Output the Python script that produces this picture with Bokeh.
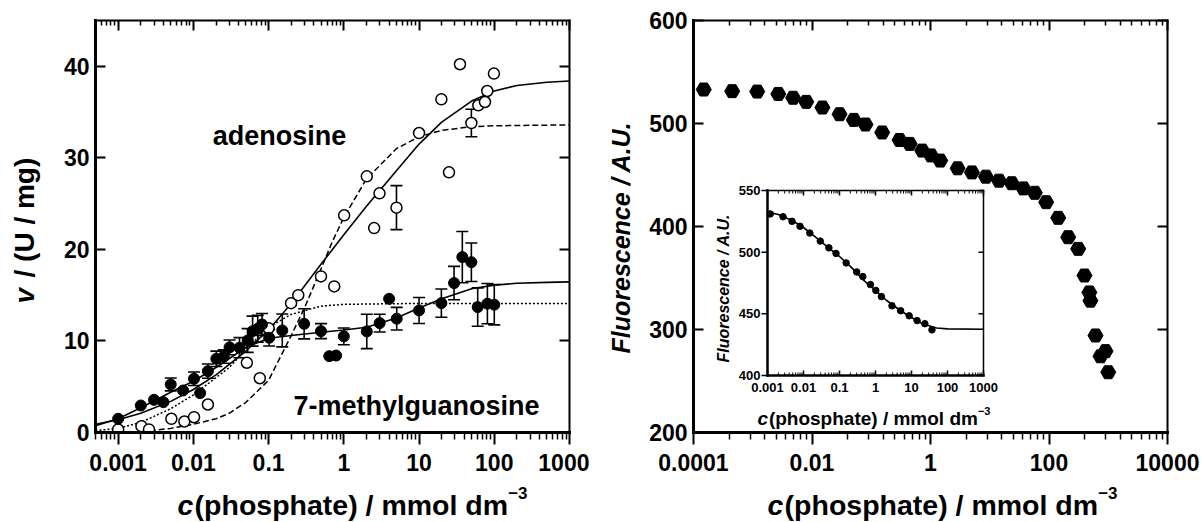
import numpy as np
from bokeh.plotting import figure
from bokeh.models import (LogAxis, LinearAxis, FixedTicker, Range1d, Label, LogScale,
                          Whisker, TeeHead, ColumnDataSource, CustomJSTickFormatter)
from bokeh.layouts import row, column
from bokeh.embed import file_html
from bokeh.resources import INLINE

FONT = "Liberation Sans"

# ---------------- left panel data ----------------
# adenosine (open circles)
ado_x = [0.001, 0.00204, 0.00257, 0.0051, 0.0076, 0.0102, 0.0156, 0.0514, 0.0764, 0.1,
         0.199, 0.248, 0.497, 0.746, 1.01, 2.02, 2.53, 2.98, 5.01, 10, 19.8, 25, 35,
         49.6, 61.4, 75.2, 80.7, 98.9]
ado_y = [0.33, 0.69, 0.33, 1.5, 1.2, 1.67, 3.06, 7.62, 5.93, 11.4,
         14.13, 15.0, 17.05, 15.96, 23.72, 27.98, 22.33, 26.12, 24.56, 32.71, 36.39, 28.42, 40.22,
         33.8, 35.74, 36.1, 37.3, 39.2]
ado_err = [0, 0, 0, 0, 0, 0, 0, 0, 0, 0,
           0, 0, 0, 0, 0, 0, 0, 0, 2.4, 0, 0, 0, 0,
           1.5, 0, 0, 0, 0]

# 7-methylguanosine (filled circles)
m7g_x = [0.001, 0.002, 0.003, 0.004, 0.005, 0.0073, 0.0102, 0.0123, 0.0156, 0.0202,
         0.0254, 0.0303, 0.041, 0.0527, 0.0613, 0.0717, 0.0818, 0.1018, 0.152, 0.297,
         0.497, 0.64, 0.79, 1.0, 2.02, 3.0, 4.0, 5.05, 10, 19.8, 29.2, 37.6, 49.6,
         60.2, 81, 100]
m7g_y = [1.5, 2.95, 3.57, 3.31, 5.25, 4.59, 5.87, 4.3, 6.7, 8.05,
         8.3, 9.3, 9.26, 10.05, 11.07, 11.33, 11.8, 10.35, 11.15, 11.87,
         11.07, 8.34, 8.41, 10.5, 11.04, 11.95, 14.6, 12.43, 13.33, 14.13, 16.32, 19.16, 18.6,
         13.7, 14.07, 13.96]
m7g_err = [0, 0, 0, 0, 0.7, 0, 0.73, 0, 0.78, 0.84,
           0.73, 0.8, 1.1, 1.3, 1.64, 1.46, 1.2, 0.9, 1.8, 1.64,
           0.82, 0, 0, 0.91, 1.88, 0.97, 0, 1.24, 1.42, 1.55, 1.82, 2.8, 2.1,
           2.1, 2.2, 2.2]

# fitted curves
ado_fit1_x = [0.0005, 0.001, 0.002, 0.005, 0.01, 0.02, 0.05, 0.1, 0.2, 0.5, 1, 2, 5, 10,
              20, 50, 100, 200, 500, 1000]
ado_fit1_y = [0.9, 1.4, 2.1, 3.4, 4.7, 6.3, 8.9, 11.2, 14.1, 18.4, 21.6, 24.7, 28.6, 31.5,
              33.9, 36.2, 37.3, 37.9, 38.25, 38.4]
ado_fit2_x = [0.002, 0.003, 0.005, 0.01, 0.02, 0.03, 0.05, 0.1, 0.2, 0.3, 0.5, 0.7, 1, 2,
              5, 10, 20, 50, 100, 1000]
ado_fit2_y = [0.1, 0.25, 0.45, 0.9, 1.5, 2.1, 3.3, 5.7, 10.6, 13.6, 17.9, 20.8, 23.5, 27.7,
              31.0, 32.3, 33.0, 33.4, 33.5, 33.6]
m7g_fit1_x = [0.0005, 0.001, 0.002, 0.005, 0.01, 0.02, 0.05, 0.1, 0.2, 0.5, 1, 2, 5, 10,
              20, 50, 100, 200, 500, 1000]
m7g_fit1_y = [0.75, 1.5, 2.7, 4.4, 5.6, 7.1, 9.3, 10.3, 10.6, 10.95, 11.2, 11.5, 12.5, 13.6,
              14.6, 15.7, 16.1, 16.3, 16.4, 16.45]
m7g_fit2_x = [0.0005, 0.001, 0.002, 0.005, 0.01, 0.02, 0.03, 0.05, 0.1, 0.2, 0.5, 1, 10, 1000]
m7g_fit2_y = [0.2, 0.45, 1.1, 2.6, 4.1, 6.0, 7.1, 9.1, 11.5, 12.9, 13.8, 14.0, 14.1, 14.1]

# ---------------- right panel data ----------------
fl_x = [1.49e-4, 4.5e-4, 1.19e-3, 2.7e-3, 4.8e-3, 8.0e-3, 0.0150, 0.0292, 0.0507, 0.080,
        0.153, 0.300, 0.445, 0.724, 1.02, 1.46, 2.87, 5.0, 8.6, 14.3, 23.5, 37.0, 57.6,
        89.7, 143, 211, 311, 397, 480, 500, 610, 740, 900, 1000]
fl_y = [533, 531.4, 531, 528.7, 525, 521, 515.5, 509, 503.5, 499,
        491.3, 484, 480.2, 473.7, 469, 464, 456.5, 452.5, 448.4, 444.5, 442, 437, 432.7,
        423.6, 408.4, 389.6, 378.3, 352.4, 336, 328, 294.2, 274, 279, 258.5]
fit_ins_x = [0.001, 0.002, 0.005, 0.01, 0.02, 0.05, 0.1, 0.2, 0.5, 1, 2, 5, 10, 20, 50, 100, 1000]
fit_ins_y = [532.5, 530.5, 525.5, 520, 513, 503.5, 496.5, 488.5, 476.5, 469, 461, 452.5, 447,
             442, 438.5, 437.8, 437.5]

# ---------------- ticks ----------------
L_xmaj = [0.001, 0.01, 0.1, 1, 10, 100, 1000]
L_xmin = [k * 10.0 ** e for e in range(-4, 3) for k in range(2, 10) if 5e-4 <= k * 10.0 ** e <= 1000]
L_ymaj = [0, 10, 20, 30, 40]
R_xmaj = [0.0001, 0.01, 1, 100, 10000]
R_xmin = [m * k * k for m in R_xmaj[:-1] for k in range(2, 10)]
R_ymaj = [200, 300, 400, 500, 600]
I_xmaj = [0.001, 0.01, 0.1, 1, 10, 100, 1000]
I_xmin = [k * 10.0 ** e for e in range(-3, 3) for k in range(2, 10)]
I_ymaj = [400, 450, 500, 550]

fmt = CustomJSTickFormatter(code="return String(tick);")

ROW_H = 480
B_TOP, B_BOT = 20, 48
STRIP_H = 41


def no_align(p):
    if "frame_align" in p.properties():
        p.frame_align = False


def style_axis(ax, lw, tin, tout, mtin, mtout, fs, standoff, show=True):
    ax.axis_line_width = lw
    ax.axis_line_color = "black"
    ax.axis_line_cap = "square"
    ax.major_tick_line_width = 2
    ax.minor_tick_line_width = 1.5
    ax.major_tick_line_color = "black"
    ax.minor_tick_line_color = "black"
    ax.major_tick_in = tin
    ax.major_tick_out = tout
    ax.minor_tick_in = mtin
    ax.minor_tick_out = mtout
    ax.major_label_text_font = FONT
    ax.major_label_text_font_style = "bold"
    ax.major_label_text_color = "black"
    ax.major_label_standoff = standoff
    if show:
        ax.major_label_text_font_size = fs
    else:
        ax.major_label_text_font_size = "0px"
        ax.major_label_text_alpha = 0
        ax.major_label_standoff = 0


def make_fig(width, xr, yr, bl, br, xmaj, xmin, ymaj):
    p = figure(width=width, height=ROW_H, x_axis_type="log", x_range=Range1d(*xr),
               y_range=Range1d(*yr), output_backend="svg", toolbar_location=None,
               min_border_left=bl, min_border_right=br, min_border_top=B_TOP,
               min_border_bottom=B_BOT)
    no_align(p)
    p.title.visible = False
    p.outline_line_color = None
    p.xgrid.visible = False
    p.ygrid.visible = False
    p.background_fill_color = "white"
    xa = p.xaxis[0]
    xa.ticker = FixedTicker(ticks=xmaj, minor_ticks=xmin)
    xa.formatter = fmt
    style_axis(xa, 3, 0, 12, 0, 7, "23px", 9)
    ya = p.yaxis[0]
    ya.ticker = FixedTicker(ticks=ymaj, minor_ticks=[])
    style_axis(ya, 3, 10, 0, 0, 0, "23px", 6)
    top = LogAxis(ticker=FixedTicker(ticks=xmaj, minor_ticks=xmin), formatter=fmt)
    style_axis(top, 2, 10, 0, 5, 0, "0px", 0, show=False)
    p.add_layout(top, "above")
    right = LinearAxis(ticker=FixedTicker(ticks=ymaj, minor_ticks=[]))
    style_axis(right, 2, 10, 0, 0, 0, "0px", 0, show=False)
    p.add_layout(right, "right")
    return p


def text_strip(width, height, bt, bb):
    s = figure(width=width, height=height, x_range=Range1d(0, 1), y_range=Range1d(0, 1),
               output_backend="svg", toolbar_location=None, x_axis_location=None,
               y_axis_location=None, min_border_left=0, min_border_right=0,
               min_border_top=bt, min_border_bottom=bb)
    no_align(s)
    s.title.visible = False
    s.outline_line_color = None
    s.xgrid.visible = False
    s.ygrid.visible = False
    return s


def lab(p, x, y, text, size, style="bold", align="left", baseline="alphabetic", angle=0):
    p.add_layout(Label(x=x, y=y, x_units="screen", y_units="screen", text=text,
                       text_font=FONT, text_font_size=size, text_font_style=style,
                       text_color="black", text_align=align, text_baseline=baseline,
                       angle=angle))


def xlabel(p, x0, y0, fs, sup_fs, rise):
    lab(p, x0, y0, "c", f"{fs}px", "bold italic")
    x1 = x0 + 0.6 * fs
    lab(p, x1, y0, "(phosphate) / mmol dm", f"{fs}px", "bold")
    x2 = x1 + 11.001 * fs
    lab(p, x2, y0 + rise, "\u22123", f"{sup_fs}px", "bold")


# ================= left figure =================
p1 = make_fig(531, (5e-4, 1000), (0, 45), 37, 20, L_xmaj, L_xmin, L_ymaj)

p1.line(ado_fit1_x, ado_fit1_y, line_color="black", line_width=1.6)
p1.line(ado_fit2_x, ado_fit2_y, line_color="black", line_width=1.5, line_dash="6 3")
p1.line(m7g_fit1_x, m7g_fit1_y, line_color="black", line_width=1.6)
p1.line(m7g_fit2_x, m7g_fit2_y, line_color="black", line_width=1.5, line_dash="2 2")


def err_source(xs, ys, es):
    sel = [(x, y, e) for x, y, e in zip(xs, ys, es) if e > 0]
    return ColumnDataSource(dict(x=[s[0] for s in sel], lo=[s[1] - s[2] for s in sel],
                                 hi=[s[1] + s[2] for s in sel]))


for src in (err_source(m7g_x, m7g_y, m7g_err), err_source(ado_x, ado_y, ado_err)):
    w = Whisker(source=src, base="x", lower="lo", upper="hi", dimension="height",
                line_color="black", line_width=1.6,
                upper_head=TeeHead(size=12, line_width=1.6, line_color="black"),
                lower_head=TeeHead(size=12, line_width=1.6, line_color="black"))
    p1.add_layout(w)

p1.scatter(ado_x, ado_y, marker="circle", size=11, fill_color="white", line_color="black",
           line_width=1.5)
p1.scatter(m7g_x, m7g_y, marker="circle", size=11, fill_color="black", line_color="black")

lab(p1, 184, 297, "adenosine", "27px", align="center")
lab(p1, 321, 27, "7-methylguanosine", "27px", align="center")

# ================= right figure =================
p2 = make_fig(556, (1e-4, 1e4), (200, 600), 48, 34, R_xmaj, R_xmin, R_ymaj)

# inset geometry (pixels inside the 474 x 412 frame)
FR_W, FR_H = 474, 412
INS_L, INS_R, INS_T, INS_B = 74, 290, 170, 355
ipx = (INS_R - INS_L) / 6.0
ipy = (INS_B - INS_T) / 150.0
p2.extra_x_ranges = {"ix": Range1d(10 ** (-3 - INS_L / ipx), 10 ** (3 + (FR_W - INS_R) / ipx))}
p2.extra_y_ranges = {"iy": Range1d(400 - (FR_H - INS_B) / ipy, 550 + INS_T / ipy)}
p2.extra_x_scales = {"ix": LogScale()}
IR = dict(x_range_name="ix", y_range_name="iy")

p2.scatter(fl_x, fl_y, marker="hex", size=15, fill_color="black", line_color="black")

p2.quad(left=[I_xmaj[0]], right=[I_xmaj[-1]], bottom=[I_ymaj[0]], top=[I_ymaj[-1]],
        fill_color="white", line_color=None, **IR)
ins_x = [x for x in fl_x if I_xmaj[0] <= x <= 40]
ins_y = [y for x, y in zip(fl_x, fl_y) if I_xmaj[0] <= x <= 40]
p2.line(fit_ins_x, fit_ins_y, line_color="black", line_width=1.6, **IR)
p2.scatter(ins_x, ins_y, marker="circle", size=6.5, fill_color="black", line_color="black", **IR)

x0i, x1i, y0i, y1i = I_xmaj[0], I_xmaj[-1], I_ymaj[0], I_ymaj[-1]
p2.segment(x0=[x0i, x0i], y0=[y0i, y0i], x1=[x0i, x1i], y1=[y1i, y0i], line_width=2.5,
           line_color="black", line_cap="square", **IR)
p2.segment(x0=[x0i, x1i], y0=[y1i, y0i], x1=[x1i, x1i], y1=[y1i, y1i], line_width=1.5,
           line_color="black", line_cap="square", **IR)
for ys, sign in ((y0i, 1), (y1i, -1)):
    p2.segment(x0=I_xmaj, x1=I_xmaj, y0=[ys] * len(I_xmaj),
               y1=[ys + sign * 5 / ipy] * len(I_xmaj), line_width=1.5, line_color="black", **IR)
    p2.segment(x0=I_xmin, x1=I_xmin, y0=[ys] * len(I_xmin),
               y1=[ys + sign * 3 / ipy] * len(I_xmin), line_width=1, line_color="black", **IR)
p2.segment(x0=[x0i] * 4, x1=[x0i / 10 ** (6 / ipx)] * 4, y0=I_ymaj, y1=I_ymaj, line_width=1.5,
           line_color="black", **IR)
p2.segment(x0=[x1i] * 4, x1=[x1i / 10 ** (5 / ipx)] * 4, y0=I_ymaj, y1=I_ymaj, line_width=1.5,
           line_color="black", **IR)
p2.text(x=I_xmaj, y=[y0i] * len(I_xmaj), text=[str(v) for v in I_xmaj], text_align="center",
        text_baseline="top", y_offset=7, text_font={"value": FONT}, text_font_size={"value": "13px"},
        text_font_style="bold", text_color="black", **IR)
p2.text(x=[x0i] * 4, y=I_ymaj, text=[str(v) for v in I_ymaj], text_align="right",
        text_baseline="middle", x_offset=-7, text_font={"value": FONT},
        text_font_size={"value": "13px"}, text_font_style="bold", text_color="black", **IR)

# inset y title: starts (bottom) at y = 362 px, reads upwards
lab(p2, 30, 70, "Fluorescence / A.U.", "16px", "bold italic", align="left",
    baseline="middle", angle=np.pi / 2)
xlabel(p2, 64, 14, 19, 11, 8)

# ================= label strips =================
sL = text_strip(58, ROW_H, B_TOP, B_BOT)
lab(sL, 24, 129, "v", "28px", "bold italic", baseline="middle", angle=np.pi / 2)
lab(sL, 24, 155, "/ (U / mg)", "28px", "bold", baseline="middle", angle=np.pi / 2)

sM = text_strip(56, ROW_H, B_TOP, B_BOT)
lab(sM, 31, 79, "Fluorescence / A.U.", "25px", "bold italic", align="left",
    baseline="middle", angle=np.pi / 2)

sB = text_strip(1201, STRIP_H, 0, 0)
xlabel(sB, 177, 17, 28.5, 17, 12)
xlabel(sB, 767, 17, 28.5, 17, 12)

layout = column(row(sL, p1, sM, p2), sB)
open("out.html", "w").write(file_html(layout, INLINE))
